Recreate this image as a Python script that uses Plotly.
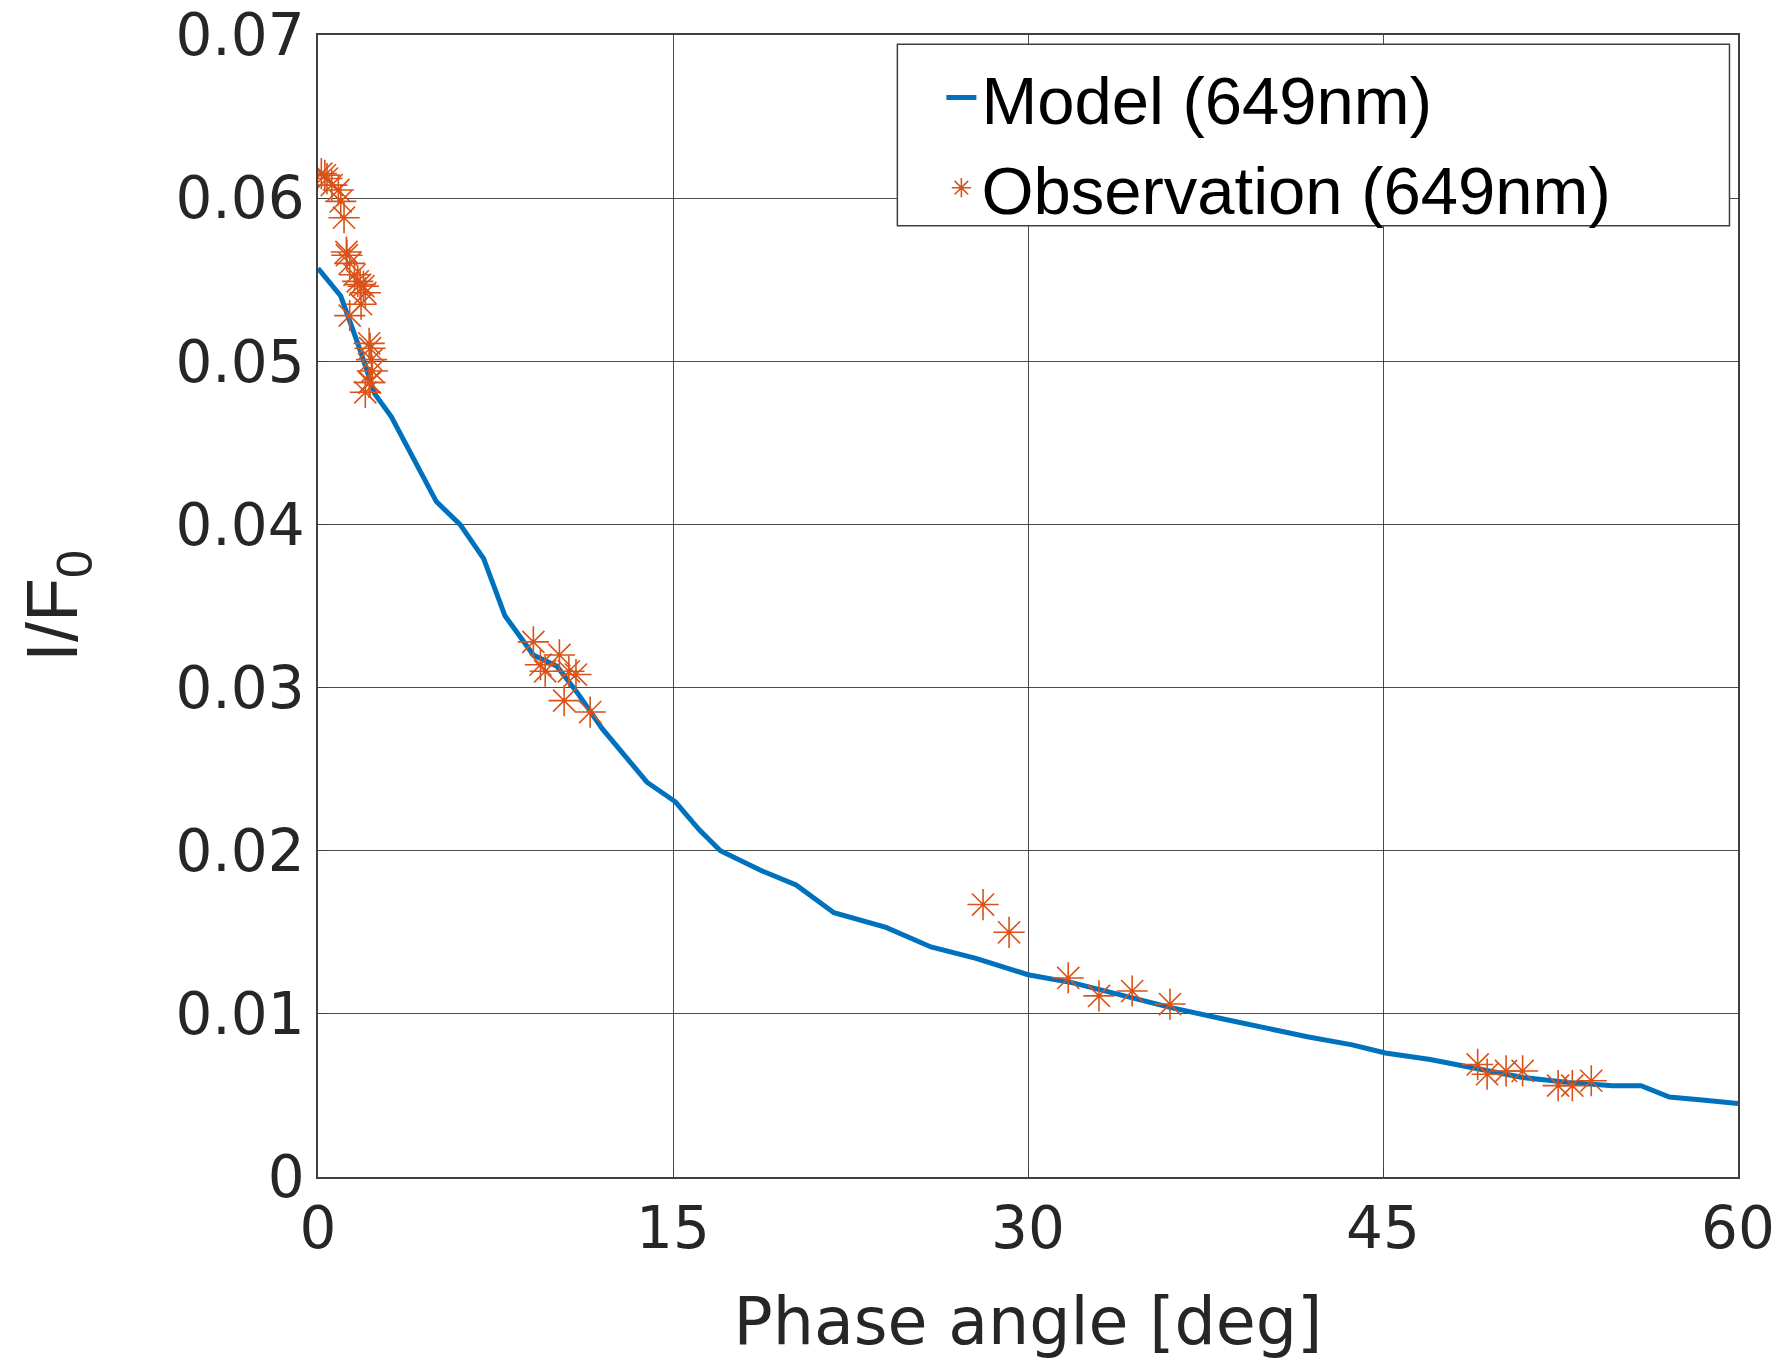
import plotly.graph_objects as go

# Model curve (phase angle deg, I/F0)
model_x = [0, 0.96, 1.68, 2.4, 3.1, 5.0, 6.0, 7.0, 7.9, 9.1, 10.1, 11.0, 12.0, 13.9, 15.1,
           16.1, 17.0, 18.7, 20.2, 21.8, 24.0, 25.9, 27.8, 30.0, 31.9, 34.1, 36.0, 38.2,
           39.8, 41.8, 43.7, 45.1, 47.0, 49.0, 50.9, 52.8, 54.7, 55.9, 57.1, 58.6, 60.0]
model_y = [0.0557, 0.0540, 0.0511, 0.0480, 0.0466, 0.0414, 0.0400, 0.0379, 0.0344, 0.0320,
           0.0313, 0.0296, 0.0275, 0.0242, 0.0230, 0.0213, 0.0200, 0.0188, 0.0179, 0.0162,
           0.0153, 0.0141, 0.0134, 0.0124, 0.0119, 0.0111, 0.0104, 0.0097, 0.0092, 0.0086,
           0.0081, 0.0076, 0.0072, 0.0066, 0.0061, 0.0058, 0.0056, 0.0056, 0.0049, 0.0047,
           0.0045]

# Observations
obs_x = [0.14, 0.29, 0.38, 0.58, 0.86, 0.96, 1.1, 1.2, 1.22, 1.34, 1.54, 1.68, 1.78, 1.92,
         2.0, 1.82, 1.34, 2.16, 2.2, 2.26, 2.3, 2.2, 2.16, 2.0,
         9.1, 9.4, 9.6, 10.2, 10.6, 10.9, 10.4, 11.5,
         28.1, 29.2, 31.7, 33.0, 34.4, 36.0,
         49.0, 49.4, 50.2, 50.9, 52.4, 53.0, 53.8]
obs_y = [0.0615, 0.0614, 0.0612, 0.0608, 0.0605, 0.0598, 0.0588, 0.0567, 0.0565, 0.0560,
         0.0553, 0.0549, 0.0547, 0.0546, 0.0542, 0.0535, 0.0528, 0.0511, 0.0508, 0.0501,
         0.0494, 0.0487, 0.0487, 0.0481,
         0.0328, 0.0314, 0.0310, 0.0320, 0.0310, 0.0308, 0.0292, 0.0285,
         0.0167, 0.0150, 0.0122, 0.0111, 0.0114, 0.0106,
         0.0069, 0.0063, 0.0065, 0.0065, 0.0056, 0.0056, 0.0059]

x_ticks = [0, 15, 30, 45, 60]
y_ticks = [0, 0.01, 0.02, 0.03, 0.04, 0.05, 0.06, 0.07]
y_tick_labels = ["0", "0.01", "0.02", "0.03", "0.04", "0.05", "0.06", "0.07"]

FONT_AX = "DejaVu Sans, Liberation Sans, Arial, sans-serif"
FONT_LG = "Liberation Sans, Arial, Helvetica, sans-serif"
TXT = "#262626"

fig = go.Figure()
fig.add_trace(go.Scatter(
    x=model_x, y=model_y, mode="lines", name="Model (649nm)",
    line=dict(color="#0072BD", width=5),
))
fig.add_trace(go.Scatter(
    x=obs_x, y=obs_y, mode="markers", name="Observation (649nm)",
    marker=dict(symbol="asterisk-open", size=26, color="#D95319",
                line=dict(color="#E2703F", width=1.6)),
))

axis_common = dict(
    showgrid=True, gridcolor="rgba(30,30,30,0.8)", gridwidth=1.4,
    showline=True, linecolor="#404040", linewidth=1.6, mirror=True,
    ticks="inside", ticklen=10, tickcolor="#404040",
    zeroline=False, automargin=False, ticklabeloverflow="allow",
    tickfont=dict(family=FONT_AX, size=58, color=TXT),
)

fig.update_layout(
    width=1781, height=1365,
    paper_bgcolor="white", plot_bgcolor="white",
    margin=dict(l=318, r=43, t=35, b=188),
    font=dict(family=FONT_AX, color=TXT),
    xaxis=dict(range=[0, 60], tickvals=x_ticks, ticktext=[str(v) for v in x_ticks],
               title=dict(text="Phase angle [deg]", font=dict(family=FONT_AX, size=65, color=TXT),
                          standoff=37),
               **axis_common),
    yaxis=dict(range=[0, 0.07], tickvals=y_ticks, ticktext=y_tick_labels,
               title=dict(text="I/F<sub>0</sub>", font=dict(family=FONT_LG, size=72, color=TXT),
                          standoff=74),
               **axis_common),
    legend=dict(x=0.439, y=0.989, xanchor="left", yanchor="top",
                bgcolor="rgba(0,0,0,0)", borderwidth=0,
                font=dict(family=FONT_LG, size=67, color="black"),
                itemwidth=30, tracegroupgap=0),
    showlegend=True,
)

# legend box (MATLAB-style, wider than its content)
fig.add_shape(type="rect", xref="paper", yref="paper",
              x0=0.408, x1=0.994, y0=0.833, y1=0.992,
              line=dict(color="#404040", width=1.5), fillcolor="white", layer="above")

fig.write_html("out.html", config={"displayModeBar": False},
               post_script="document.body.style.margin='0';")
